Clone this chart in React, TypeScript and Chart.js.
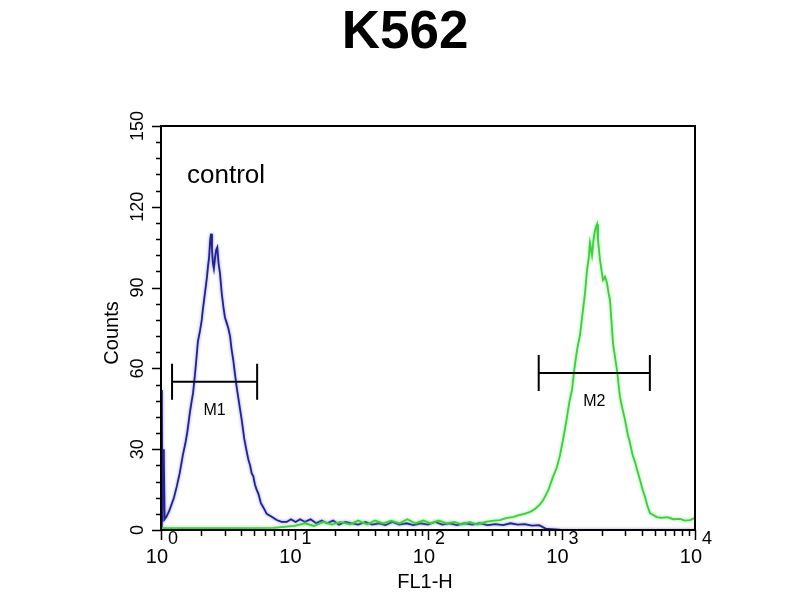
import React, { useEffect, useRef } from "react";
import { Chart, registerables } from "chart.js";

Chart.register(...registerables);

const titleText = "K562";
const xAxisTitle = "FL1-H";
const yAxisTitle = "Counts";
const annotationText = "control";

const xTickExponents = [0, 1, 2, 3, 4];
const yTickValues = [0, 30, 60, 90, 120, 150];
const yMinorStep = 6;

// control (blue) histogram
const controlFL = [
  1, 1.015, 1.025, 1.04, 1.05, 1.065, 1.1, 1.15, 1.19, 1.25,
  1.31, 1.38, 1.46, 1.52, 1.57, 1.61, 1.65, 1.7, 1.74, 1.79,
  1.83, 1.89, 1.96, 2.02, 2.06, 2.11, 2.16, 2.21, 2.25, 2.29,
  2.33, 2.37, 2.41, 2.45, 2.49, 2.54, 2.59, 2.64, 2.7, 2.77,
  2.85, 2.93, 3.01, 3.1, 3.19, 3.29, 3.38, 3.48, 3.58, 3.69,
  3.85, 4.02, 4.2, 4.39, 4.52, 4.65, 4.78, 4.91, 5.05, 5.2,
  5.36, 5.6, 5.9, 6.19, 6.7, 7.36, 8.0, 8.74, 9.4, 10.2,
  11, 12, 13.2, 14.5, 16, 17.5, 19.5, 21.5, 24, 27,
  30, 34, 38, 43, 48, 54, 61, 69, 78, 88,
  100, 113, 128, 145, 165, 188, 215, 245, 280, 320,
  365, 415, 470, 530, 600, 680, 760, 1000, 2000, 5000,
  10000,
];
const controlCounts = [
  0, 52, 3, 30, 27, 4, 5, 7, 9, 12,
  16, 21, 28, 32, 36, 40, 44, 48, 51, 57,
  62, 70, 74, 78, 82, 86, 90, 94, 98, 101,
  107, 110, 104, 99, 97, 101, 104, 105, 99, 95,
  88, 83, 79, 77, 75, 72, 67, 63, 58, 53,
  47, 41, 34, 29, 26, 24, 21, 20, 17, 15,
  13.5, 10, 8, 6, 5, 3.7, 3, 3, 4, 3,
  4, 3, 4, 2.5, 3.5, 2.5, 3.5, 2, 3, 2.5,
  2, 3, 2, 2.5, 1.8, 3, 2, 2.5, 1.8, 2.5,
  2, 3, 2, 2.5, 1.8, 2.5, 2, 2.5, 1.8, 2.2,
  1.8, 2.5, 2, 2.2, 1.6, 1.8, 0.5, 0, 0, 0,
  0,
];

// stained sample (green) histogram
const sampleFL = [
  1, 2, 4, 7, 10, 12, 14, 16.5, 19, 22,
  26, 30, 35, 40, 46, 53, 61, 70, 80, 92,
  105, 120, 138, 158, 180, 205, 235, 270, 310, 346,
  390, 433, 480, 530, 581, 640, 690, 727, 800, 863,
  920, 975, 1040, 1100, 1150, 1199, 1250, 1307, 1376, 1449,
  1500, 1553, 1600, 1634, 1692, 1740, 1782, 1845, 1876, 1942,
  2000, 2046, 2120, 2192, 2250, 2308, 2430, 2520, 2604, 2742,
  2860, 2992, 3120, 3260, 3400, 3555, 3700, 3874, 4050, 4221,
  4400, 4600, 4900, 5190, 5600, 6166, 6900, 7720, 8400, 9180,
  10000,
];
const sampleCounts = [
  0.7, 0.7, 0.7, 0.8, 1.5, 2.5, 1.5, 3, 2, 3,
  2, 3.5, 2, 3.5, 2.5, 3.5, 2.5, 4, 2.5, 3.5,
  2.5, 3.5, 2.5, 3, 2, 3, 2, 3, 3.5, 3.7,
  4.5, 4.8, 5.5, 6, 6.7, 8, 9.5, 11, 15, 19.7,
  23, 27.8, 35, 42, 48, 52, 60, 66.8, 72.4, 81.7,
  88, 96.5, 101, 106.6, 102, 108, 111.4, 113.5, 107.7, 100.3,
  96, 92.8, 94, 91.7, 88, 85.4, 69.4, 64, 59.4, 49.4,
  45, 40.8, 36, 32.3, 28, 25.2, 22, 18.6, 15, 12.3,
  9, 6.3, 5.5, 4.8, 4.5, 4.8, 4, 4.1, 3.5, 3.7,
  4.5,
];

// gate markers
const markerLabels = ["M1", "M2"];
const markerFrom = [1.21, 675];
const markerTo = [5.25, 4590];
const markerLevel = [55, 58.3];

const FONT = "'Liberation Sans', Arial, sans-serif";

const decorPlugin = {
  id: "decor",
  beforeDatasetDraw(chart: any, args: any) {
    const ds = chart.data.datasets[args.index];
    const ctx = chart.ctx;
    ctx.save();
    ctx.shadowColor = ds.glowColor;
    ctx.shadowBlur = 3;
  },
  afterDatasetDraw(chart: any) {
    chart.ctx.restore();
  },
  afterDraw(chart: any) {
    const ctx: CanvasRenderingContext2D = chart.ctx;
    const area = chart.chartArea;
    const xs = chart.scales.x;
    const ys = chart.scales.y;
    ctx.save();
    ctx.strokeStyle = "#000";
    ctx.fillStyle = "#000";

    // frame
    ctx.lineWidth = 2;
    ctx.strokeRect(area.left, area.top, area.right - area.left, area.bottom - area.top);

    // x ticks (log)
    ctx.lineWidth = 1.5;
    ctx.beginPath();
    for (let i = 0; i < xTickExponents.length; i++) {
      const e = xTickExponents[i];
      const base = Math.pow(10, e);
      const mMax = i === xTickExponents.length - 1 ? 1 : 9;
      for (let m = 1; m <= mMax; m++) {
        const px = Math.round(xs.getPixelForValue(m * base)) + 0.5;
        const len = m === 1 ? 10 : 6;
        ctx.moveTo(px, area.bottom);
        ctx.lineTo(px, area.bottom + len);
      }
    }
    // y ticks
    const yMax = yTickValues[yTickValues.length - 1];
    for (let v = 0; v <= yMax; v += yMinorStep) {
      const py = Math.round(ys.getPixelForValue(v)) + 0.5;
      const len = yTickValues.includes(v) ? 9 : 5;
      ctx.moveTo(area.left, py);
      ctx.lineTo(area.left - len, py);
    }
    ctx.stroke();

    // x tick labels 10^e
    for (const e of xTickExponents) {
      const px = xs.getPixelForValue(Math.pow(10, e));
      ctx.font = `20px ${FONT}`;
      const wBase = ctx.measureText("10").width;
      ctx.font = `18px ${FONT}`;
      const wExp = ctx.measureText(String(e)).width;
      const startX = px - (wBase + wExp) / 2 + 1;
      ctx.textAlign = "left";
      ctx.textBaseline = "alphabetic";
      ctx.font = `20px ${FONT}`;
      ctx.fillText("10", startX, area.bottom + 33);
      ctx.font = `18px ${FONT}`;
      ctx.fillText(String(e), startX + wBase, area.bottom + 14);
    }

    // y tick labels (rotated)
    ctx.font = `18px ${FONT}`;
    ctx.textAlign = "center";
    ctx.textBaseline = "alphabetic";
    for (const v of yTickValues) {
      const py = ys.getPixelForValue(v);
      ctx.save();
      ctx.translate(area.left - 18, py);
      ctx.rotate(-Math.PI / 2);
      ctx.fillText(String(v), 0, 0);
      ctx.restore();
    }

    // axis titles
    ctx.font = `20px ${FONT}`;
    ctx.textAlign = "center";
    ctx.fillText(xAxisTitle, (area.left + area.right) / 2 - 3, area.bottom + 58);
    ctx.save();
    ctx.translate(area.left - 43, 333);
    ctx.rotate(-Math.PI / 2);
    ctx.fillText(yAxisTitle, 0, 0);
    ctx.restore();

    // title
    ctx.font = `bold 53px ${FONT}`;
    ctx.textAlign = "center";
    ctx.fillText(titleText, 405, 48);

    // annotation
    ctx.font = `26px ${FONT}`;
    ctx.textAlign = "left";
    ctx.fillText(annotationText, area.left + 26, area.top + 57);

    // markers
    ctx.lineWidth = 2;
    for (let i = 0; i < markerLabels.length; i++) {
      const x1 = xs.getPixelForValue(markerFrom[i]);
      const x2 = xs.getPixelForValue(markerTo[i]);
      const y = ys.getPixelForValue(markerLevel[i]);
      ctx.beginPath();
      ctx.moveTo(x1, y);
      ctx.lineTo(x2, y);
      ctx.moveTo(x1, y - 18);
      ctx.lineTo(x1, y + 18);
      ctx.moveTo(x2, y - 18);
      ctx.lineTo(x2, y + 18);
      ctx.stroke();
      ctx.font = `16px ${FONT}`;
      ctx.textAlign = "center";
      ctx.textBaseline = "middle";
      ctx.fillText(markerLabels[i], (x1 + x2) / 2, y + 29);
    }
    ctx.restore();
  },
};

export default function App() {
  const canvasRef = useRef<HTMLCanvasElement | null>(null);

  useEffect(() => {
    const canvas = canvasRef.current;
    if (!canvas) return;
    const chart = new Chart(canvas, {
      type: "line",
      data: {
        datasets: [
          {
            label: "sample",
            data: sampleFL.map((x, i) => ({ x, y: sampleCounts[i] })),
            borderColor: "#3ccf3c",
            borderWidth: 1.8,
            pointRadius: 0,
            tension: 0,
            fill: false,
            glowColor: "rgba(120,235,120,0.9)",
          } as any,
          {
            label: "control",
            data: controlFL.map((x, i) => ({ x, y: controlCounts[i] })),
            borderColor: "#22228e",
            borderWidth: 1.8,
            pointRadius: 0,
            tension: 0,
            fill: false,
            glowColor: "rgba(110,110,220,0.8)",
          } as any,
        ],
      },
      options: {
        responsive: false,
        animation: false,
        events: [],
        layout: { padding: { left: 161, right: 105, top: 126, bottom: 70 } },
        plugins: {
          legend: { display: false },
          tooltip: { enabled: false },
          title: { display: false },
        },
        scales: {
          x: {
            type: "logarithmic",
            min: 1,
            max: 10000,
            grid: { display: false },
            ticks: { display: false },
            border: { display: false },
            afterFit: (s: any) => {
              s.height = 0;
            },
          },
          y: {
            type: "linear",
            min: 0,
            max: 150,
            grid: { display: false },
            ticks: { display: false },
            border: { display: false },
            afterFit: (s: any) => {
              s.width = 0;
            },
          },
        },
      },
      plugins: [decorPlugin],
    });
    return () => chart.destroy();
  }, []);

  return (
    <div style={{ position: "absolute", left: 0, top: 0, width: 800, height: 600, background: "#fff" }}>
      <canvas ref={canvasRef} width={800} height={600} style={{ width: 800, height: 600, display: "block" }} />
    </div>
  );
}
